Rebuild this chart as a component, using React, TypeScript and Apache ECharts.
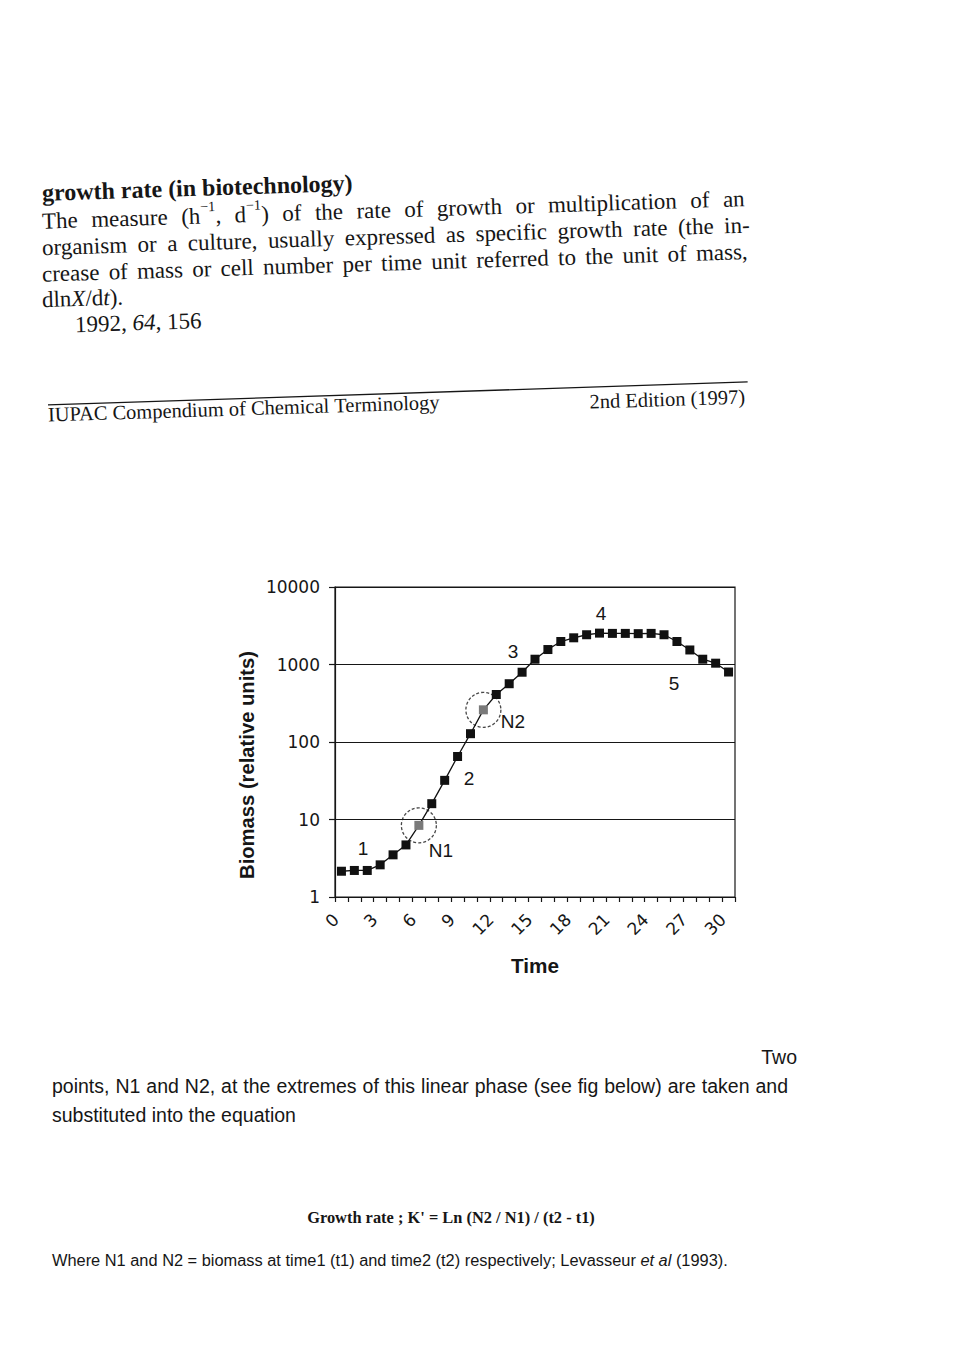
import React, { useEffect, useRef } from 'react';
import * as echarts from 'echarts';

// ---------- data ----------
const timeLabels = ['0','1','2','3','4','5','6','7','8','9','10','11','12','13','14','15','16','17','18','19','20','21','22','23','24','25','26','27','28','29','30'];
const biomass = [2.15, 2.2, 2.2, 2.6, 3.5, 4.7, 8.4, 16, 32, 65, 128, 260, 410, 565, 795, 1170, 1560, 1980, 2210, 2420, 2540, 2520, 2520, 2500, 2520, 2420, 1980, 1540, 1170, 1040, 800];
const n1Index = 6;
const n2Index = 11;
const phaseLabels = ['1', '2', '3', '4', '5'];
const pointLabels = ['N1', 'N2'];
const xAxisTitle = 'Time';
const yAxisTitle = 'Biomass (relative units)';

// ---------- page text ----------
const titleText = 'growth rate (in biotechnology)';
const para2 = 'organism or a culture, usually expressed as specific growth rate (the in-';
const para3 = 'crease of mass or cell number per time unit referred to the unit of mass,';
const footerLeft = 'IUPAC Compendium of Chemical Terminology';
const footerRight = '2nd Edition (1997)';
const lowerTwo = 'Two';
const lowerLine1 = 'points, N1 and N2,  at the extremes of this linear phase (see fig below) are taken and';
const lowerLine2 = 'substituted into the equation';
const formulaText = "Growth rate ;  K' = Ln (N2 / N1) / (t2 - t1)";
const whereText = 'Where N1 and N2 = biomass at time1 (t1) and time2 (t2) respectively; Levasseur';
const whereItalic = 'et al';
const whereEnd = '(1993).';

type Seg = { t: string; i?: boolean; b?: boolean; sup?: boolean };

const SERIF = 'Liberation Serif';
const SANS = 'Liberation Sans';
const INK = '#161616';

let ctx: CanvasRenderingContext2D | null = null;
function measure(text: string, font: string): number {
  if (!ctx) ctx = document.createElement('canvas').getContext('2d');
  ctx!.font = font;
  return ctx!.measureText(text).width;
}
function fontStr(size: number, family: string, bold?: boolean, italic?: boolean) {
  return `${italic ? 'italic ' : ''}${bold ? 'bold ' : ''}${size}px "${family}"`;
}
function plain(s: string): Seg[][] {
  return s.split(' ').filter(Boolean).map((w) => [{ t: w }]);
}
function fit(text: string, width: number, family: string, bold?: boolean) {
  return (20 * width) / measure(text, fontStr(20, family, bold));
}
// vertical middle of a text box whose baseline is at b
const mid = (b: number, size: number) => b - 0.34 * size;

function buildLine(
  words: Seg[][],
  x: number,
  y: number,
  size: number,
  family: string,
  opts: { bold?: boolean; justify?: number; align?: 'left' | 'right' | 'center' } = {}
): any[] {
  const segSize = (s: Seg) => (s.sup ? size * 0.62 : size);
  const segW = (s: Seg) => measure(s.t, fontStr(segSize(s), family, opts.bold || s.b, s.i));
  const wordW = words.map((w) => w.reduce((a, s) => a + segW(s), 0));
  const total = wordW.reduce((a, b) => a + b, 0);
  let gap = measure(' ', fontStr(size, family, opts.bold));
  if (opts.justify && words.length > 1) gap = (opts.justify - total) / (words.length - 1);
  const lineW = total + gap * (words.length - 1);
  let cx = x;
  if (opts.align === 'right') cx = x - lineW;
  if (opts.align === 'center') cx = x - lineW / 2;
  const els: any[] = [];
  words.forEach((w) => {
    w.forEach((s) => {
      els.push({
        type: 'text',
        x: cx,
        y: s.sup ? y - size * 0.42 : y,
        silent: true,
        style: {
          text: s.t,
          fontSize: segSize(s),
          fontFamily: family,
          fontWeight: opts.bold || s.b ? 'bold' : 'normal',
          fontStyle: s.i ? 'italic' : 'normal',
          fill: INK,
          textAlign: 'left',
          textVerticalAlign: 'middle',
        },
      });
      cx += segW(s);
    });
    cx += gap;
  });
  return els;
}

function buildGraphic(): any[] {
  // upper block (the scanned page is slightly rotated)
  const theta = 0.032;
  const ox = 42;
  const oy = 300;
  const ct = Math.cos(theta);
  const st = Math.sin(theta);
  const toLocal = (sx: number, sy: number) => {
    const dx = sx - ox;
    const dy = sy - oy;
    return [dx * ct - dy * st, dx * st + dy * ct];
  };

  const bodySize = Math.min(23, Math.max(18, fit(para3, 706, SERIF) * 0.97));
  const titleSize = Math.min(24, Math.max(18, fit(titleText, 315, SERIF, true)));
  const footSize = Math.min(22, Math.max(16, fit(footerLeft, 392, SERIF)));

  const upper: any[] = [];
  let p = toLocal(42, mid(201, titleSize));
  upper.push(...buildLine(plain(titleText), p[0], p[1], titleSize, SERIF, { bold: true }));

  const line1: Seg[][] = [
    [{ t: 'The' }],
    [{ t: 'measure' }],
    [{ t: '(h' }, { t: '\u22121', sup: true }, { t: ',' }],
    [{ t: 'd' }, { t: '\u22121', sup: true }, { t: ')' }],
    ...plain('of the rate of growth or multiplication of an'),
  ];
  p = toLocal(42, mid(229, bodySize));
  upper.push(...buildLine(line1, p[0], p[1], bodySize, SERIF, { justify: 703 }));
  p = toLocal(42, mid(255.5, bodySize));
  upper.push(...buildLine(plain(para2), p[0], p[1], bodySize, SERIF, { justify: 708 }));
  p = toLocal(42, mid(282, bodySize));
  upper.push(...buildLine(plain(para3), p[0], p[1], bodySize, SERIF, { justify: 706 }));
  const line4: Seg[][] = [[{ t: 'dln' }, { t: 'X', i: true }, { t: '/d' }, { t: 't', i: true }, { t: ').' }]];
  p = toLocal(42, mid(307.5, bodySize));
  upper.push(...buildLine(line4, p[0], p[1], bodySize, SERIF));
  const line5: Seg[][] = [[{ t: '1992,' }], [{ t: '64', i: true }, { t: ',' }], [{ t: '156' }]];
  p = toLocal(75, mid(332.5, bodySize));
  upper.push(...buildLine(line5, p[0], p[1], bodySize, SERIF));

  const r1 = toLocal(48, 405);
  const r2 = toLocal(748, 382);
  upper.push({
    type: 'line',
    silent: true,
    shape: { x1: r1[0], y1: r1[1], x2: r2[0], y2: r2[1] },
    style: { stroke: INK, lineWidth: 1.3 },
  });
  p = toLocal(48, mid(421.5, footSize));
  upper.push(...buildLine(plain(footerLeft), p[0], p[1], footSize, SERIF));
  p = toLocal(745, mid(403.5, footSize));
  upper.push(...buildLine(plain(footerRight), p[0], p[1], footSize, SERIF, { align: 'right' }));

  const els: any[] = [
    { type: 'group', x: ox, y: oy, rotation: theta, children: upper },
  ];

  // y axis title (drawn as rotated text, it sits below the axis centre in the original)
  const yNameSize = Math.min(21, fit(yAxisTitle, 228, SANS, true));
  els.push({
    type: 'text',
    x: 247,
    y: 765,
    rotation: Math.PI / 2,
    silent: true,
    style: {
      text: yAxisTitle,
      fontSize: yNameSize,
      fontWeight: 'bold',
      fontFamily: SANS,
      fill: INK,
      textAlign: 'center',
      textVerticalAlign: 'middle',
    },
  });

  // chart annotations
  const annSize = 19;
  const ann = (t: string, x: number, y: number) => ({
    type: 'text',
    x,
    y,
    silent: true,
    z: 10,
    style: {
      text: t,
      fontSize: annSize,
      fontFamily: SANS,
      fill: INK,
      textAlign: 'center',
      textVerticalAlign: 'middle',
    },
  });
  els.push(ann(phaseLabels[0], 363, 848));
  els.push(ann(phaseLabels[1], 469, 778));
  els.push(ann(phaseLabels[2], 513, 651));
  els.push(ann(phaseLabels[3], 601, 613));
  els.push(ann(phaseLabels[4], 674, 683));
  els.push(ann(pointLabels[0], 441, 850));
  els.push(ann(pointLabels[1], 513, 721));

  // lower text
  const sansSize = fit(lowerLine2, 244, SANS);
  els.push(...buildLine(plain(lowerTwo), 797, 1057, sansSize, SANS, { align: 'right' }));
  els.push(...buildLine(plain(lowerLine1), 52, 1086, sansSize, SANS, { justify: 736 }));
  els.push(...buildLine(plain(lowerLine2), 52, 1115, sansSize, SANS));
  const fSize = fit(formulaText, 292, SERIF, true);
  els.push(...buildLine(plain(formulaText), 451, 1217, fSize, SERIF, { bold: true, align: 'center' }));
  const whereSize = fit(whereText + ' ' + whereItalic + ' ' + whereEnd, 676, SANS);
  const whereWords: Seg[][] = [
    ...plain(whereText),
    ...whereItalic.split(' ').map((w) => [{ t: w, i: true }]),
    ...plain(whereEnd),
  ];
  els.push(...buildLine(whereWords, 52, 1260, whereSize, SANS));
  return els;
}

export default function App() {
  const ref = useRef<HTMLDivElement>(null);
  useEffect(() => {
    document.body.style.margin = '0';
    if (!ref.current) return;
    const chart = echarts.init(ref.current, null, { renderer: 'svg' });
    const axisColor = '#161616';
    const seriesData = biomass.map((v, i) =>
      i === n1Index || i === n2Index
        ? { value: v, itemStyle: { color: '#7a7a7a' } }
        : v
    );
    const xNameSize = Math.min(22, fit(xAxisTitle, 48, SANS, true));
    const option: any = {
      animation: false,
      backgroundColor: '#ffffff',
      grid: {
        left: 335,
        top: 587,
        width: 400,
        height: 310,
        show: true,
        borderColor: axisColor,
        borderWidth: 1.2,
        backgroundColor: 'rgba(0,0,0,0)',
      },
      xAxis: {
        type: 'category',
        data: timeLabels,
        boundaryGap: true,
        axisLine: { show: true, lineStyle: { color: axisColor, width: 1.2 } },
        axisTick: { show: true, interval: 0, length: 5, lineStyle: { color: axisColor, width: 1.2 } },
        axisLabel: {
          interval: 2,
          rotate: 45,
          margin: 14,
          padding: [0, 8, 0, 0],
          fontSize: 17,
          fontFamily: 'DejaVu Sans',
          color: axisColor,
        },
        splitLine: { show: false },
        name: xAxisTitle,
        nameLocation: 'middle',
        nameGap: 58,
        nameTextStyle: { fontSize: xNameSize, fontWeight: 'bold', fontFamily: SANS, color: axisColor },
      },
      yAxis: {
        type: 'log',
        logBase: 10,
        min: 1,
        max: 10000,
        axisLine: { show: true, lineStyle: { color: axisColor, width: 1.2 } },
        axisTick: { show: true, length: 6, lineStyle: { color: axisColor, width: 1.2 } },
        axisLabel: {
          margin: 15,
          fontSize: 17,
          fontFamily: 'DejaVu Sans',
          color: axisColor,
          formatter: (v: number) => String(Math.round(v)),
        },
        splitLine: { show: true, lineStyle: { color: axisColor, width: 1.2 } },
        minorTick: { show: false },
      },
      series: [
        {
          type: 'line',
          data: seriesData,
          symbol: 'rect',
          symbolSize: 9,
          showAllSymbol: true,
          itemStyle: { color: '#111111' },
          lineStyle: { color: '#111111', width: 1.3 },
          z: 3,
        },
        {
          type: 'scatter',
          data: [
            [n1Index, biomass[n1Index]],
            [n2Index, biomass[n2Index]],
          ],
          symbol: 'circle',
          symbolSize: 35,
          itemStyle: {
            color: 'rgba(0,0,0,0)',
            borderColor: '#1a1a1a',
            borderWidth: 1.3,
            borderType: [3, 2],
          },
          z: 2,
        },
      ],
      graphic: buildGraphic(),
    };
    chart.setOption(option);
    return () => chart.dispose();
  }, []);
  return <div ref={ref} style={{ width: 960, height: 1358 }} />;
}
